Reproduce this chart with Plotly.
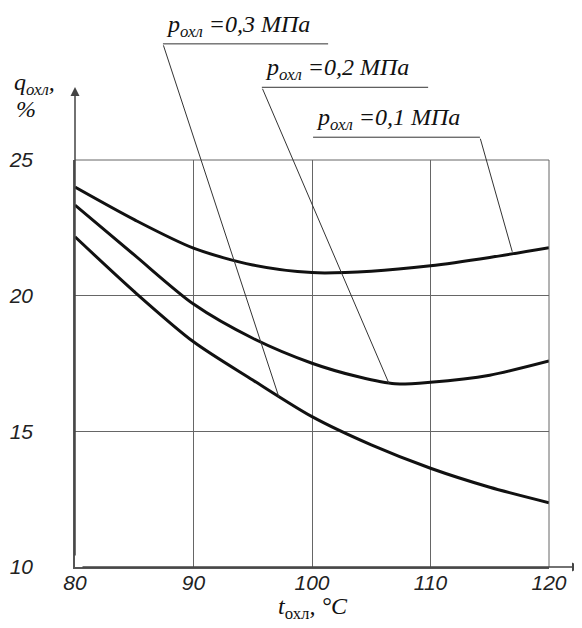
import plotly.graph_objects as go

# ---- data ----
t_cool = [80, 85, 90, 95, 100, 105, 110, 115, 120]
q_p01 = [24.0, 22.8, 21.75, 21.13, 20.85, 20.9, 21.1, 21.41, 21.77]
t_p02 = [80, 85, 90, 95, 100, 104, 107, 110, 115, 120]
q_p02 = [23.34, 21.5, 19.69, 18.43, 17.51, 17.0, 16.75, 16.81, 17.07, 17.59]
q_p03 = [22.17, 20.15, 18.3, 16.89, 15.54, 14.5, 13.64, 12.94, 12.37]

x_ticks = [80, 90, 100, 110, 120]
y_ticks = [10, 15, 20, 25]
x_range = [80, 120]
y_range = [10, 25]

# callout labels: (pressure text, underline x0, underline x1, underline y (data units above the plot),
#                  tail at left/right end, head point on curve)
callouts = [
    ("0,3", 87.42, 101.36, 29.28, "left", (97.2, 16.27)),
    ("0,2", 95.77, 109.80, 27.68, "left", (106.5, 16.76)),
    ("0,1", 100.09, 114.17, 25.84, "right", (116.9, 21.62)),
]

tick_font = dict(family="Liberation Sans, Arial, sans-serif", size=21, color="#222",
                 style="italic")
serif = "Liberation Serif, Times New Roman, serif"

fig = go.Figure()
curve = dict(color="#111", width=3, shape="spline", smoothing=0.8)
fig.add_trace(go.Scatter(x=t_cool, y=q_p01, mode="lines", line=curve, showlegend=False))
fig.add_trace(go.Scatter(x=t_p02, y=q_p02, mode="lines", line=curve, showlegend=False))
fig.add_trace(go.Scatter(x=t_cool, y=q_p03, mode="lines", line=curve, showlegend=False))


def to_paper_y(v):
    return (v - y_range[0]) / (y_range[1] - y_range[0])


shapes = []
annotations = []
for val, x0, x1, yu, side, head in callouts:
    yp = to_paper_y(yu)
    shapes.append(dict(type="line", xref="x", yref="paper", x0=x0, x1=x1, y0=yp, y1=yp,
                       line=dict(color="#333", width=1)))
    tail_x = x0 if side == "left" else x1
    annotations.append(dict(x=head[0], y=head[1], xref="x", yref="y",
                            ax=tail_x, ay=yu, axref="x", ayref="y",
                            showarrow=True, arrowhead=0, arrowwidth=1, arrowcolor="#333",
                            text=""))
    annotations.append(dict(x=x0 + 0.1, y=yp, xref="x", yref="paper",
                            xanchor="left", yanchor="bottom", yshift=1, showarrow=False,
                            text="<i>p<sub>охл</sub> =" + val + " МПа</i>",
                            font=dict(family=serif, size=24, color="#111")))

# axis arrows
annotations.append(dict(x=80, y=(567 - 87) / 407, xref="x", yref="paper", ax=0, ay=470,
                        showarrow=True, arrowhead=2, arrowsize=1.2, arrowwidth=1.5,
                        arrowcolor="#444", text=""))
annotations.append(dict(x=(581 - 75) / 474, y=0, xref="paper", yref="paper", ax=-500, ay=0,
                        showarrow=True, arrowhead=2, arrowsize=1.2, arrowwidth=1.5,
                        arrowcolor="#444", text=""))

# axis titles
annotations.append(dict(x=(313 - 75) / 474, y=-(608 - 567) / 407, xref="paper", yref="paper",
                        xanchor="center", yanchor="middle", showarrow=False,
                        text="<i>t</i><sub>охл</sub><i>, °C</i>",
                        font=dict(family=serif, size=24, color="#111")))
annotations.append(dict(x=(12 - 75) / 474, y=(567 - 84) / 407, xref="paper", yref="paper",
                        xanchor="left", yanchor="middle", showarrow=False,
                        text="<i>q<sub>охл</sub>,</i>",
                        font=dict(family=serif, size=24, color="#111")))
annotations.append(dict(x=(14 - 75) / 474, y=(567 - 109) / 407, xref="paper", yref="paper",
                        xanchor="left", yanchor="middle", showarrow=False,
                        text="<i>%</i>",
                        font=dict(family=serif, size=24, color="#111")))

# top and right frame lines of the grid
shapes.append(dict(type="line", xref="paper", yref="paper", x0=0, x1=1, y0=1, y1=1,
                   line=dict(color="#666", width=1)))
shapes.append(dict(type="line", xref="paper", yref="paper", x0=1, x1=1, y0=0, y1=1,
                   line=dict(color="#666", width=1)))

# the page body has an 8px margin, so the figure is 8px smaller than the window
fig.update_layout(
    width=574, height=620,
    margin=dict(l=67, r=33, t=152, b=61, autoexpand=False),
    paper_bgcolor="white", plot_bgcolor="white",
    shapes=shapes, annotations=annotations,
    xaxis=dict(range=x_range, tickvals=x_ticks, ticktext=["<i>%d</i>" % v for v in x_ticks],
               showgrid=True, gridcolor="#666", gridwidth=1, zeroline=False,
               showline=True, linecolor="#555", linewidth=1.5, ticks="",
               tickfont=tick_font, ticklabelstandoff=-4, fixedrange=True, automargin=False),
    yaxis=dict(range=y_range, tickvals=y_ticks, ticktext=["<i>%d</i>" % v for v in y_ticks],
               showgrid=True, gridcolor="#666", gridwidth=1, zeroline=False,
               showline=True, linecolor="#555", linewidth=1.5, ticks="",
               tickfont=tick_font, ticklabelstandoff=36, fixedrange=True, automargin=False),
)

fig.write_html("out.html")
